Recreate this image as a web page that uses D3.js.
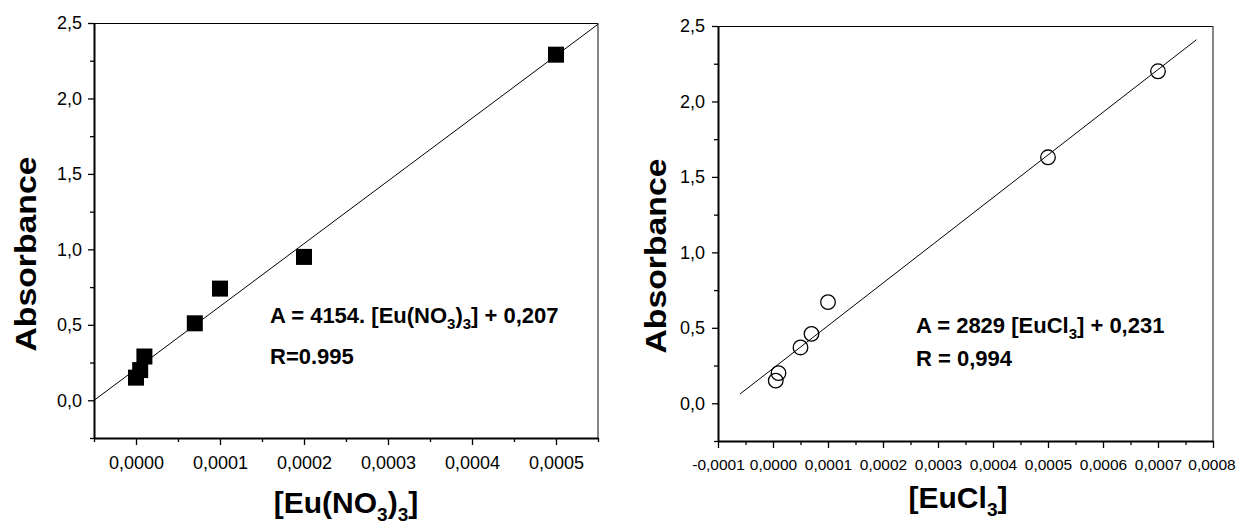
<!DOCTYPE html>
<html>
<head>
<meta charset="utf-8">
<script src="https://cdn.jsdelivr.net/npm/d3@7"></script>
<style>
    body { margin: 0; background: #fff; }
    svg text { font-family: "Liberation Sans", Arial, sans-serif; fill: #000; }
</style>
</head>
<body>
<svg id="chart" width="1236" height="529"></svg>
<script>
// Eu(NO3)3 calibration (filled squares)
const nitrateConc = [0.000000, 0.000005, 0.000010, 0.00007, 0.0001, 0.0002, 0.0005];
const nitrateAbs = [0.15, 0.20, 0.29, 0.51, 0.74, 0.95, 2.29];
const nitrateFit = { slope: 4154, intercept: 0.207 };

// EuCl3 calibration (open circles)
const chlorideConc = [0.000005, 0.000010, 0.00005, 0.00007, 0.0001, 0.0005, 0.0007];
const chlorideAbs = [0.15, 0.20, 0.37, 0.46, 0.67, 1.63, 2.20];
const chlorideFit = { slope: 2829, intercept: 0.231 };
const chlorideFitRange = [-0.00006, 0.00077];

// tick values
const yTicks = [0, 0.5, 1.0, 1.5, 2.0, 2.5];
const yMinor = [-0.25, 0.25, 0.75, 1.25, 1.75, 2.25];
const nitrateXTicks = [0, 0.0001, 0.0002, 0.0003, 0.0004, 0.0005];
const nitrateXMinor = [-0.00005, 0.00005, 0.00015, 0.00025, 0.00035, 0.00045, 0.00055];
const chlorideXTicks = [-0.0001, 0, 0.0001, 0.0002, 0.0003, 0.0004, 0.0005, 0.0006, 0.0007, 0.0008];
const chlorideXMinor = [-0.00005, 0.00005, 0.00015, 0.00025, 0.00035, 0.00045, 0.00055, 0.00065, 0.00075];

// comma decimal, plain hyphen minus
const locale = d3.formatLocale({ decimal: ",", thousands: ".", grouping: [3], currency: ["", ""], minus: "-" });
const fmtY = locale.format(".1f");
const fmtX = locale.format(".4f");

const svg = d3.select("#chart");

// write text made of parts, some of them subscripts
function richText(sel, parts, size, subSize, shift) {
    let down = false;
    parts.forEach(p => {
        let isSub = typeof p !== "string";
        let t = sel.append("tspan").text(isSub ? p.sub : p)
            .style("font-size", (isSub ? subSize : size) + "px");
        if (isSub && !down) { t.attr("dy", shift); down = true; }
        else if (!isSub && down) { t.attr("dy", -shift); down = false; }
    });
}

function drawPanel(cfg) {
    let x = d3.scaleLinear().domain(cfg.xDomain).range([cfg.left, cfg.right]);
    let y = d3.scaleLinear().domain([-0.25, 2.5]).range([cfg.bottom, cfg.top]);

    let g = svg.append("g");

    // frame: thin top and right
    g.append("line").attr("x1", cfg.left).attr("x2", cfg.right)
        .attr("y1", cfg.top + 0.5).attr("y2", cfg.top + 0.5)
        .attr("stroke", "#000").attr("stroke-width", 1);
    g.append("line").attr("x1", cfg.right).attr("x2", cfg.right)
        .attr("y1", cfg.top).attr("y2", cfg.bottom)
        .attr("stroke", "#444").attr("stroke-width", 1.3);

    // x axis, major + minor
    let xAxis = g.append("g").attr("transform", `translate(0,${cfg.bottom})`)
        .call(d3.axisBottom(x).tickValues(cfg.xTicks).tickFormat(fmtX)
            .tickSize(7).tickSizeOuter(0).tickPadding(11));
    g.append("g").attr("transform", `translate(0,${cfg.bottom})`)
        .call(d3.axisBottom(x).tickValues(cfg.xMinor).tickFormat("")
            .tickSize(4).tickSizeOuter(0))
        .select(".domain").remove();
    xAxis.select(".domain").attr("stroke-width", 2);
    xAxis.selectAll(".tick text").style("font-size", cfg.xFont + "px");
    if (cfg.lastDx) xAxis.selectAll(".tick text").filter((d, i, n) => i === n.length - 1).attr("dx", cfg.lastDx);

    // y axis, major + minor
    let yAxis = g.append("g").attr("transform", `translate(${cfg.left},0)`)
        .call(d3.axisLeft(y).tickValues(yTicks).tickFormat(fmtY)
            .tickSize(6).tickSizeOuter(0).tickPadding(cfg.yPad));
    g.append("g").attr("transform", `translate(${cfg.left},0)`)
        .call(d3.axisLeft(y).tickValues(yMinor).tickFormat("")
            .tickSize(4).tickSizeOuter(0))
        .select(".domain").remove();
    yAxis.select(".domain").attr("stroke-width", 2);
    yAxis.selectAll(".tick text").style("font-size", "18px");
    g.selectAll(".tick line").attr("stroke-width", 1.3);
    g.selectAll("g").attr("font-family", null);

    // fit line
    let fitPts = cfg.fitRange.map(v => [v, cfg.fit.slope * v + cfg.fit.intercept]);
    g.append("path")
        .attr("d", d3.line().x(d => x(d[0])).y(d => y(d[1]))(fitPts))
        .attr("fill", "none").attr("stroke", "#000").attr("stroke-width", 1);

    // points
    let pts = cfg.xs.map((v, i) => ({ x: v, y: cfg.ys[i] }));
    if (cfg.marker === "square") {
        g.selectAll("rect.pt").data(pts).enter().append("rect")
            .attr("class", "pt")
            .attr("x", d => x(d.x) - 8).attr("y", d => y(d.y) - 8)
            .attr("width", 16).attr("height", 16)
            .attr("fill", "#000");
    } else {
        g.selectAll("circle.pt").data(pts).enter().append("circle")
            .attr("class", "pt")
            .attr("cx", d => x(d.x)).attr("cy", d => y(d.y)).attr("r", 7.3)
            .attr("fill", "none").attr("stroke", "#000").attr("stroke-width", 1.3);
    }

    // axis titles
    g.append("text")
        .attr("transform", `translate(${cfg.yTitle[0]},${cfg.yTitle[1]}) rotate(-90)`)
        .attr("text-anchor", "middle")
        .style("font-size", "30px").attr("font-weight", "bold")
        .attr("textLength", 195).attr("lengthAdjust", "spacingAndGlyphs")
        .text("Absorbance");

    let xt = g.append("text")
        .attr("x", cfg.xTitle[0]).attr("y", cfg.xTitle[1])
        .attr("text-anchor", "middle").attr("font-weight", "bold");
    richText(xt, cfg.xTitleParts, 30, 19, 8);

    // equation
    let eq = g.append("text")
        .attr("x", cfg.eq[0]).attr("y", cfg.eq[1]).attr("font-weight", "bold");
    richText(eq, cfg.eqParts, 22, 15, 6);
    g.append("text")
        .attr("x", cfg.eq[0]).attr("y", cfg.eq[2])
        .attr("font-weight", "bold").style("font-size", "22px")
        .text(cfg.rText);
}

drawPanel({
    left: 94, right: 598, top: 23, bottom: 438,
    xDomain: [-0.00005, 0.00055],
    xTicks: nitrateXTicks, xMinor: nitrateXMinor, yPad: 6, xFont: 18,
    xs: nitrateConc, ys: nitrateAbs, marker: "square",
    fit: nitrateFit, fitRange: [-0.00005, 0.00055],
    yTitle: [36, 254], xTitle: [346, 513],
    xTitleParts: ["[Eu(NO", { sub: "3" }, ")", { sub: "3" }, "]"],
    eq: [270, 323, 364],
    eqParts: ["A = 4154. [Eu(NO", { sub: "3" }, ")", { sub: "3" }, "] + 0,207"],
    rText: "R=0.995"
});

drawPanel({
    left: 718, right: 1213, top: 26, bottom: 441,
    xDomain: [-0.0001, 0.0008],
    xTicks: chlorideXTicks, xMinor: chlorideXMinor, yPad: 7, xFont: 15.5, lastDx: -1.5,
    xs: chlorideConc, ys: chlorideAbs, marker: "circle",
    fit: chlorideFit, fitRange: chlorideFitRange,
    yTitle: [666, 256], xTitle: [958, 508],
    xTitleParts: ["[EuCl", { sub: "3" }, "]"],
    eq: [916, 333, 366],
    eqParts: ["A = 2829 [EuCl", { sub: "3" }, "] + 0,231"],
    rText: "R = 0,994"
});
</script>
</body>
</html>
